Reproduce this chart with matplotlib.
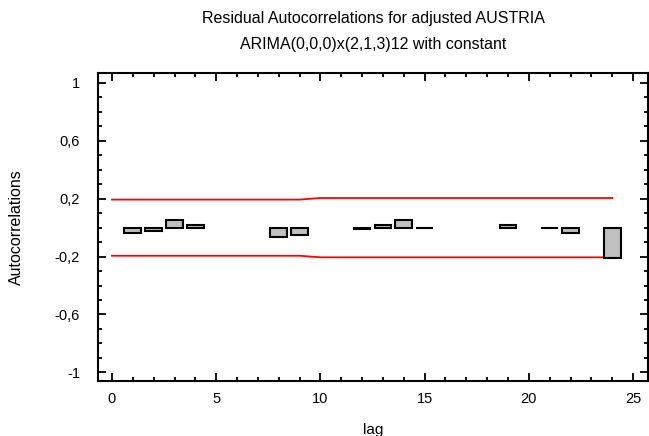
import numpy as np
import matplotlib
matplotlib.use("Agg")
import matplotlib.pyplot as plt
from matplotlib.ticker import MultipleLocator, FuncFormatter

plt.rcParams['font.family'] = ['Liberation Sans', 'DejaVu Sans']

# residual autocorrelations by lag (nan = no visible bar)
lags = np.arange(1, 25)
acf = [-0.035, -0.025, 0.055, 0.015, np.nan, np.nan, np.nan, -0.065,
       -0.05, np.nan, np.nan, -0.01, 0.015, 0.055, -0.003, np.nan,
       np.nan, np.nan, 0.015, np.nan, -0.003, -0.035, np.nan, -0.21]

# probability limits
limit_lags = np.arange(0, 25)
upper = [0.194] * 10 + [0.205] * 15
lower = [-v for v in upper]

fig = plt.figure(figsize=(6.49, 4.36), dpi=100)
ax = fig.add_axes([0.151, 0.126, 0.847, 0.707])

vals = np.array(acf, dtype=float)
ok = ~np.isnan(vals)
ax.bar(lags[ok], vals[ok], width=0.8, color='#c0c0c0', edgecolor='black',
       linewidth=1.5, zorder=3)
ax.plot(limit_lags, upper, color='red', linewidth=1.3, zorder=2)
ax.plot(limit_lags, lower, color='red', linewidth=1.3, zorder=2)

ax.set_xlim(-0.67, 25.7)
ax.set_ylim(-1.06, 1.07)
ax.xaxis.set_major_locator(MultipleLocator(5))
ax.xaxis.set_minor_locator(MultipleLocator(1))
ax.set_yticks([-1, -0.6, -0.2, 0.2, 0.6, 1])
ax.yaxis.set_minor_locator(MultipleLocator(0.1))
ax.yaxis.set_major_formatter(FuncFormatter(lambda v, p: ('%g' % round(v, 2)).replace('.', ',')))
ax.tick_params(which='both', direction='in', top=True, right=True, width=1.3, labelsize=10.5)
ax.tick_params(which='major', length=6)
ax.tick_params(which='minor', length=3)
ax.tick_params(axis='y', which='major', pad=13)
ax.tick_params(axis='x', which='major', pad=8)
for s in ax.spines.values():
    s.set_linewidth(1.5)

ax.set_xlabel('lag', fontsize=11, labelpad=12)
ax.set_ylabel('Autocorrelations', fontsize=11.5, labelpad=22)
fig.text(0.575, 0.958, 'Residual Autocorrelations for adjusted AUSTRIA',
         ha='center', va='center', fontsize=11.5)
fig.text(0.575, 0.898, 'ARIMA(0,0,0)x(2,1,3)12 with constant',
         ha='center', va='center', fontsize=11.5)

fig.savefig('out.png', dpi=100)
